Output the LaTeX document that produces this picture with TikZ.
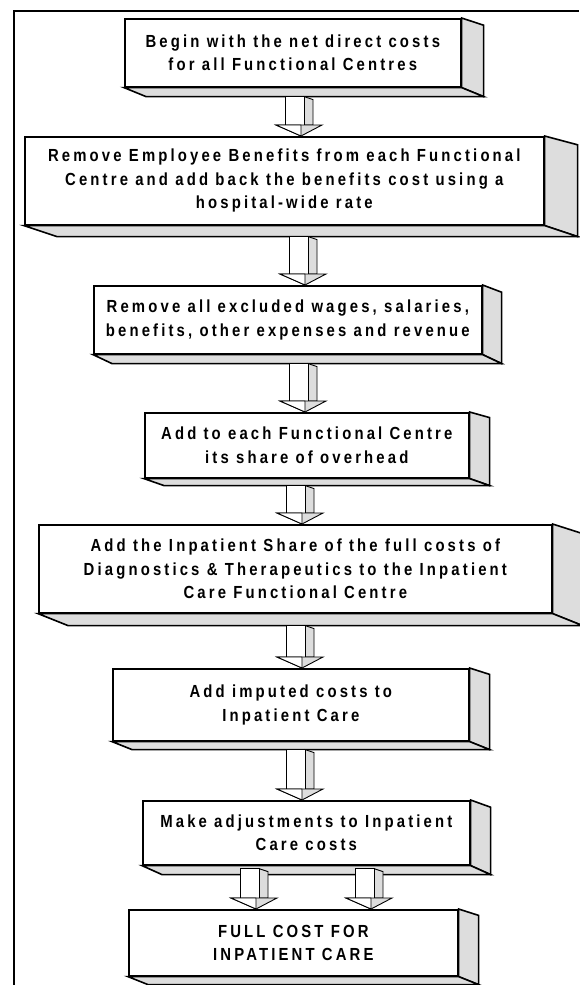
\documentclass[tikz,border=0pt]{standalone}
\usepackage{fontspec}
\usepackage{tikz}
\usetikzlibrary{calc,positioning}
\newfontfamily\boxfont{Liberation Sans}[FakeStretch=0.85,LetterSpace=18]
\definecolor{sidegray}{HTML}{DDDDDD}

% block arrow from one box down to the next one
\newcommand{\blockarrow}[4]{%
  \coordinate (s) at ($(#1.south -| #3)+(0,-#4)$);
  \coordinate (h) at ($(#2.north -| #3)+(0,11)$);
  \coordinate (t) at (#2.north -| #3);
  \draw[arrowline,fill=sidegray] ($(s)+(19,0)$) -- ($(s)+(28,-3)$) -- ($(h)+(28,0)$) -- ($(h)+(19,0)$) -- cycle;
  \draw[arrowline,fill=white] (s) rectangle ($(h)+(19,0)$);
  \draw[arrowline,fill=sidegray] ($(h)+(-9,0)$) -- ($(h)+(37,0)$) -- ($(t)+(16,0)$) -- cycle;
  \draw[arrowline,fill=white] ($(h)+(-9,0)$) -- ($(h)+(16,0)$) -- ($(t)+(16,0)$) -- cycle;
}

\begin{document}
\begin{tikzpicture}[x=1pt, y=1pt,
    stepbox/.style={draw, line width=1.6pt, fill=white, inner sep=0pt, anchor=north west,
      align=center, font=\boxfont\bfseries\fontsize{17.5}{23.5}\selectfont},
    face/.style={draw, line width=1.6pt, fill=sidegray, line join=miter},
    arrowline/.style={draw, line width=0.9pt, line join=miter}]
    \useasboundingbox (0,0) rectangle (579,-985);
    \draw[line width=2.2pt] (14,-985) -- (14,-11) -- (579,-11);

    \node[stepbox, minimum width=336, minimum height=68] (b1) at (124,-18)
      {Begin with the net direct costs\\for all Functional Centres};
    \node[stepbox, minimum width=519, minimum height=88] (b2) at (24,-136)
      {Remove Employee Benefits from each Functional\\Centre and add back the benefits cost using a\\hospital-wide rate};
    \node[stepbox, minimum width=388, minimum height=68] (b3) at (93,-285)
      {Remove all excluded wages, salaries,\\benefits, other expenses and revenue};
    \node[stepbox, minimum width=324, minimum height=65] (b4) at (144,-412)
      {Add to each Functional Centre\\its share of overhead};
    \node[stepbox, minimum width=513, minimum height=88] (b5) at (38,-524)
      {Add the Inpatient Share of the full costs of\\Diagnostics \& Therapeutics to the Inpatient\\Care Functional Centre};
    \node[stepbox, minimum width=356, minimum height=72] (b6) at (112,-668)
      {Add imputed costs to\\Inpatient Care};
    \node[stepbox, minimum width=327, minimum height=64] (b7) at (142,-800)
      {Make adjustments to Inpatient\\Care costs};
    \node[stepbox, minimum width=329, minimum height=66] (b8) at (128,-909)
      {FULL COST FOR\\INPATIENT CARE};

    % side and bottom faces
    \foreach \n/\dx/\dd in {b1/22/9, b2/33/11, b3/19/9, b4/20/7, b5/30/12, b6/20/8, b7/20/9, b8/20/8} {
      \draw[face] (\n.north east) -- ++(\dx,-0.8*\dd) -- ($(\n.south east)+(\dx,-\dd)$) -- (\n.south east) -- cycle;
      \draw[face] (\n.south west) -- ++(\dx,-\dd) -- ($(\n.south east)+(\dx,-\dd)$) -- (\n.south east) -- cycle;
    }

    \coordinate (a1) at (285,0);
    \coordinate (a2) at (289,0);
    \coordinate (a4) at (286,0);
    \coordinate (a7) at (240,0);
    \coordinate (a8) at (355,0);
    \blockarrow{b1}{b2}{a1}{9}
    \blockarrow{b2}{b3}{a2}{11}
    \blockarrow{b3}{b4}{a2}{9}
    \blockarrow{b4}{b5}{a4}{7}
    \blockarrow{b5}{b6}{a4}{12}
    \blockarrow{b6}{b7}{a4}{8}
    \blockarrow{b7}{b8}{a7}{3}
    \blockarrow{b7}{b8}{a8}{3}
\end{tikzpicture}
\end{document}
